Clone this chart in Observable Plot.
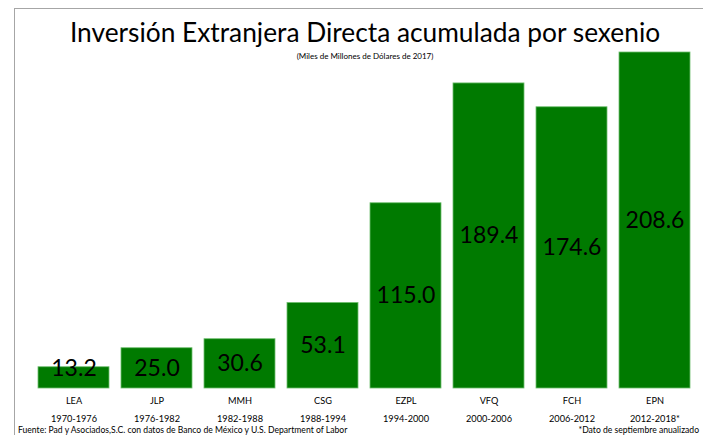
<!DOCTYPE html>
<html>
<head>
<meta charset="utf-8">
<script src="https://cdn.jsdelivr.net/npm/d3@7"></script>
<script src="https://cdn.jsdelivr.net/npm/@observablehq/plot@0.6"></script>
<style>
  html, body { margin: 0; padding: 0; background: #fff; }
  #wrap { position: relative; width: 703px; height: 435px; overflow: hidden; }
  #frame { position: absolute; left: 14px; top: 8px; width: 700px; height: 440px;
           border-left: 1px solid #a6a6a6; border-top: 1px solid #a6a6a6; }
  #chart { position: absolute; left: 0; top: 0; }
</style>
</head>
<body>
<div id="wrap"><div id="frame"></div><div id="chart"></div></div>
<script>
const presidents = ["LEA", "JLP", "MMH", "CSG", "EZPL", "VFQ", "FCH", "EPN"];
const periods = ["1970-1976", "1976-1982", "1982-1988", "1988-1994", "1994-2000", "2000-2006", "2006-2012", "2012-2018*"];
const values = [13.2, 25.0, 30.6, 53.1, 115.0, 189.4, 174.6, 208.6];

const titleText = "Inversión Extranjera Directa acumulada por sexenio";
const subtitleText = "(Miles de Millones de Dólares de 2017)";
const sourceText = "Fuente: Pad y Asociados,S.C. con datos de Banco de México y U.S. Department of Labor";
const noteText = "*Dato de septiembre anualizado";

const data = presidents.map((p, i) => ({ p, period: periods[i], v: values[i] }));
const periodOf = Object.fromEntries(data.map(d => [d.p, d.period]));

const font = "Lato, 'Open Sans', sans-serif";

const chart = Plot.plot({
  width: 703,
  height: 435,
  marginTop: 52,
  marginBottom: 47,
  marginLeft: 26,
  marginRight: 0,
  style: { fontFamily: font, background: "transparent", overflow: "visible" },
  x: { domain: presidents, paddingInner: 0.14, paddingOuter: 0.12, label: null },
  y: { domain: [0, 208.6], axis: null },
  marks: [
    Plot.barY(data, { x: "p", y: "v", fill: "#007a00", stroke: "#6fbf6f", strokeWidth: 0.8 }),
    Plot.text(data, {
      x: "p", y: d => Math.max(d.v / 2, 12.4), text: d => d.v.toFixed(1),
      fontSize: 23, fill: "#000", fontFamily: font
    }),
    Plot.axisX({
      tickSize: 0, tickPadding: 3, fontSize: 9.2, lineHeight: 1.95, fill: "#000",
      tickFormat: d => d + "\n" + periodOf[d], fontFamily: font
    }),
    Plot.text([titleText], {
      frameAnchor: "top", lineAnchor: "middle", dy: -19, fontSize: 26.3, fill: "#000", fontFamily: font
    }),
    Plot.text([subtitleText], {
      frameAnchor: "top", lineAnchor: "middle", dy: 4, fontSize: 8, fill: "#000", fontFamily: font
    })
  ]
});
document.getElementById("chart").appendChild(chart);

const svg = d3.select(chart);
svg.append("text").attr("x", 18).attr("y", 433).attr("font-size", 8.6)
  .attr("text-anchor", "start").attr("font-family", font).attr("fill", "#000").text(sourceText);
svg.append("text").attr("x", 699).attr("y", 433).attr("font-size", 8.6)
  .attr("text-anchor", "end").attr("font-family", font).attr("fill", "#000").text(noteText);
</script>
</body>
</html>
